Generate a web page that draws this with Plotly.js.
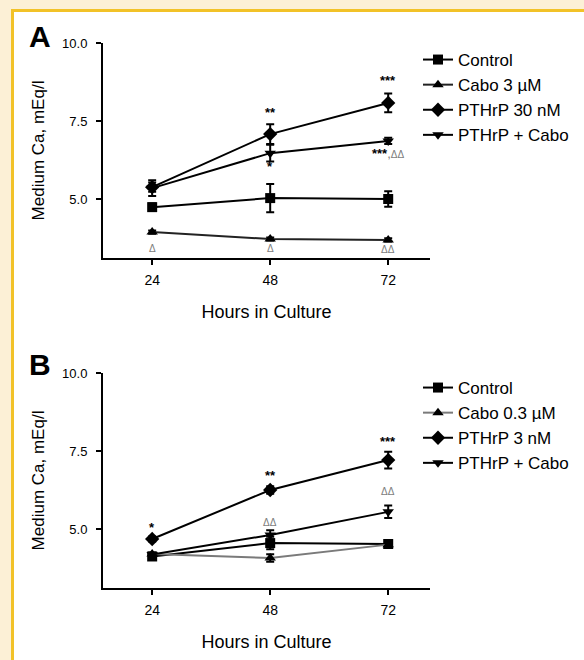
<!DOCTYPE html>
<html>
<head>
<meta charset="utf-8">
<script src="https://cdn.plot.ly/plotly-3.0.1.min.js"></script>
<style>
  html, body { margin: 0; padding: 0; }
  body { width: 584px; height: 660px; background: #fcf0d6; position: relative; overflow: hidden; }
  #frame { position: absolute; left: 11px; top: 9px; right: -5px; bottom: -5px; background: #ffffff;
           border-left: 3px solid #f2c228; border-top: 3px solid #f2c228; }
  #chart { position: absolute; left: 0; top: 0; width: 584px; height: 660px; }
</style>
</head>
<body>
<div id="frame"></div>
<div id="chart"></div>
<script>
// ---------- data ----------
const hours = [24, 48, 72];
const yTickVals = [5.0, 7.5, 10.0];
const yTickText = ['5.0', '7.5', '10.0'];

// Panel A
const namesA = ['Control', 'Cabo 3 µM', 'PTHrP 30 nM', 'PTHrP + Cabo'];
const controlA = [4.74, 5.03, 5.00];
const controlAErr = [0.12, 0.45, 0.25];
const caboA = [3.94, 3.72, 3.69];
const caboAErr = [0.05, 0.05, 0.05];
const pthrpA = [5.38, 7.08, 8.08];
const pthrpAErr = [0.15, 0.32, 0.30];
const comboA = [5.35, 6.47, 6.86];
const comboAErr = [0.25, 0.27, 0.10];

// Panel B
const namesB = ['Control', 'Cabo 0.3 µM', 'PTHrP 3 nM', 'PTHrP + Cabo'];
const controlB = [4.12, 4.55, 4.52];
const controlBErr = [0.08, 0.20, 0.10];
const caboB = [4.20, 4.07, 4.50];
const caboBErr = [0.05, 0.12, 0.05];
const pthrpB = [4.68, 6.25, 7.21];
const pthrpBErr = [0.08, 0.12, 0.27];
const comboB = [4.18, 4.81, 5.55];
const comboBErr = [0.05, 0.15, 0.20];

// significance labels: [x, y, stars, deltas]
const sigA = [
  [48, 7.76, '**', ''], [48, 6.03, '*', ''], [72, 8.81, '***', ''],
  [72, 6.47, '***', 'ΔΔ'],
  [24, 3.43, '', 'Δ'], [48, 3.40, '', 'Δ'], [72, 3.37, '', 'ΔΔ']
];
const sigB = [
  [24, 5.06, '*', ''], [48, 6.73, '**', ''], [48, 5.22, '', 'ΔΔ'],
  [72, 7.79, '***', ''], [72, 6.19, '', 'ΔΔ']
];

// ---------- styling ----------
const W = 584, H = 660;
const FONT = 'Liberation Sans, Arial, sans-serif';
const symbols = ['square', 'triangle-up', 'diamond', 'triangle-down'];

function makeTrace(name, y, err, sym, xa, ya, legendId, lineColor) {
  return {
    type: 'scatter', mode: 'lines+markers', name: name,
    x: hours, y: y, xaxis: xa, yaxis: ya, legend: legendId,
    line: { color: lineColor || '#000000', width: 2 },
    marker: { symbol: sym, size: sym === 'diamond' ? 11 : 10, color: '#000000' },
    error_y: { type: 'data', array: err, visible: true, color: '#000000', thickness: 2, width: 4 }
  };
}

const traces = [
  makeTrace(namesA[0], controlA, controlAErr, symbols[0], 'x', 'y', 'legend'),
  makeTrace(namesA[1], caboA, caboAErr, symbols[1], 'x', 'y', 'legend', '#222222'),
  makeTrace(namesA[2], pthrpA, pthrpAErr, symbols[2], 'x', 'y', 'legend'),
  makeTrace(namesA[3], comboA, comboAErr, symbols[3], 'x', 'y', 'legend'),
  makeTrace(namesB[0], controlB, controlBErr, symbols[0], 'x2', 'y2', 'legend2'),
  makeTrace(namesB[1], caboB, caboBErr, symbols[1], 'x2', 'y2', 'legend2', '#7a7a7a'),
  makeTrace(namesB[2], pthrpB, pthrpBErr, symbols[2], 'x2', 'y2', 'legend2'),
  makeTrace(namesB[3], comboB, comboBErr, symbols[3], 'x2', 'y2', 'legend2')
];

function xAxis(anchor) {
  return {
    domain: [103 / W, 430 / W], anchor: anchor, range: [14, 80.5],
    tickvals: hours, ticks: 'outside', ticklen: 5, tickwidth: 2, tickcolor: '#000',
    showline: true, linewidth: 2, linecolor: '#000', showgrid: false, zeroline: false,
    tickfont: { family: FONT, size: 14, color: '#000' }, ticklabelstandoff: 3,
    title: { text: 'Hours in Culture', font: { family: FONT, size: 18, color: '#000' }, standoff: 19 },
    fixedrange: true
  };
}
function yAxis(anchor, topPx, botPx) {
  return {
    domain: [1 - botPx / H, 1 - topPx / H], anchor: anchor, range: [3.11, 10.0],
    tickvals: yTickVals, ticktext: yTickText, ticks: 'outside', ticklen: 5, tickwidth: 2, tickcolor: '#000',
    showline: true, linewidth: 2, linecolor: '#000', showgrid: false, zeroline: false,
    tickfont: { family: FONT, size: 13, color: '#000' }, ticklabelstandoff: 6,
    title: { text: 'Medium Ca, mEq/l', font: { family: FONT, size: 17, color: '#000' }, standoff: 13 },
    fixedrange: true
  };
}

function sigAnn(list, xa, ya) {
  return list.map(s => {
    const stars = s[2] ? '<b>' + s[2] + '</b>' : '';
    const deltas = s[3] ? '<span style="color:#7d7d7d;font-size:10px">' + s[3] + '</span>' : '';
    return {
      x: s[0], y: s[1], xref: xa, yref: ya,
      text: stars + (stars && deltas ? '<span style="color:#7d7d7d">,</span>' : '') + deltas,
      showarrow: false, xanchor: 'center', yanchor: 'middle',
      font: { family: FONT, size: 13, color: '#000' }
    };
  });
}

const layout = {
  width: W, height: H,
  margin: { l: 0, r: 0, t: 0, b: 0 },
  paper_bgcolor: 'rgba(0,0,0,0)', plot_bgcolor: 'rgba(0,0,0,0)',
  showlegend: true,
  xaxis: xAxis('y'), yaxis: yAxis('x', 43, 258),
  xaxis2: xAxis('y2'), yaxis2: yAxis('x2', 373, 588),
  legend: { x: 418 / W, y: 1 - 42 / H, xanchor: 'left', yanchor: 'top', bgcolor: 'rgba(0,0,0,0)',
            font: { family: FONT, size: 17, color: '#000' }, itemwidth: 30 },
  legend2: { x: 418 / W, y: 1 - 370 / H, xanchor: 'left', yanchor: 'top', bgcolor: 'rgba(0,0,0,0)',
             font: { family: FONT, size: 17, color: '#000' }, itemwidth: 30 },
  annotations: [
    { text: '<b>A</b>', x: 40 / W, y: 1 - 37 / H, xref: 'paper', yref: 'paper', showarrow: false,
      xanchor: 'center', yanchor: 'middle', font: { family: FONT, size: 30, color: '#000' } },
    { text: '<b>B</b>', x: 40 / W, y: 1 - 364 / H, xref: 'paper', yref: 'paper', showarrow: false,
      xanchor: 'center', yanchor: 'middle', font: { family: FONT, size: 30, color: '#000' } }
  ].concat(sigAnn(sigA, 'x', 'y')).concat(sigAnn(sigB, 'x2', 'y2'))
};

Plotly.newPlot('chart', traces, layout, { displayModeBar: false, staticPlot: true });
</script>
</body>
</html>
